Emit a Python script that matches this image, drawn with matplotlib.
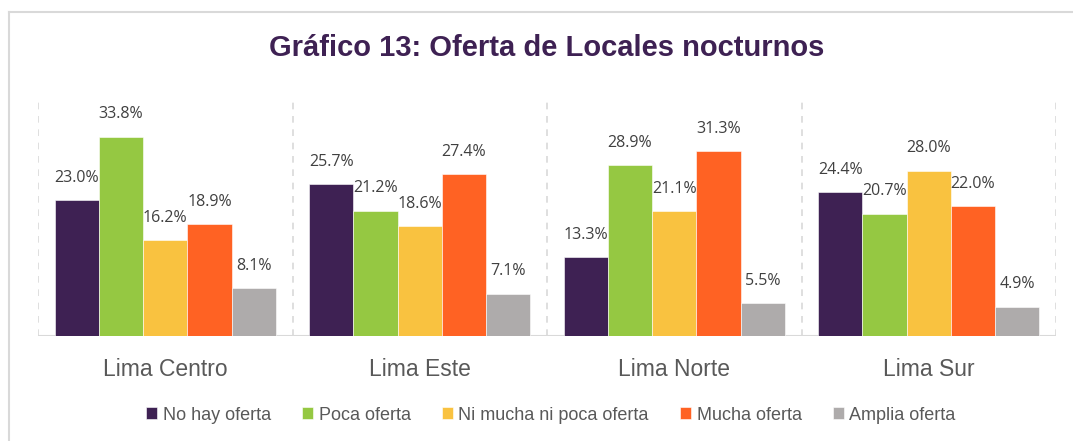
import numpy as np
import matplotlib.pyplot as plt
from matplotlib.lines import Line2D

# Data
regions = ["Lima Centro", "Lima Este", "Lima Norte", "Lima Sur"]
series_names = ["No hay oferta", "Poca oferta", "Ni mucha ni poca oferta",
                "Mucha oferta", "Amplia oferta"]
no_hay = [23.0, 25.7, 13.3, 24.4]
poca = [33.8, 21.2, 28.9, 20.7]
ni_mucha = [16.2, 18.6, 21.1, 28.0]
mucha = [18.9, 27.4, 31.3, 22.0]
amplia = [8.1, 7.1, 5.5, 4.9]

colors = ["#3E2153", "#95C842", "#F9C240", "#FF6223", "#AEABAB"]
series = [no_hay, poca, ni_mucha, mucha, amplia]

W, H = 1073, 441
fig = plt.figure(figsize=(W / 100, H / 100), dpi=100)
ax = fig.add_axes([38 / W, (H - 335.5) / H, (1056 - 38) / W, 235.5 / H])

x = np.arange(len(regions))
bw = 0.174
for i, (vals, c) in enumerate(zip(series, colors)):
    pos = x + (i - 2) * bw
    ax.bar(pos, vals, width=bw, color=c, edgecolor="white", linewidth=0.4,
           label=series_names[i], zorder=3)
    for px, v in zip(pos, vals):
        ax.annotate(f"{v:.1f}%", (px, v), xytext=(0, 16), textcoords="offset points",
                    ha="center", va="center", fontsize=11.5, color="#404040",
                    family="Open Sans", zorder=4)

ax.set_xlim(-0.5, len(regions) - 0.5)
ax.set_ylim(0, 40)
ax.set_yticks([])
ax.set_xticks(x)
ax.set_xticklabels(regions, fontsize=16.5, color="#595959", family="Liberation Sans")
ax.tick_params(axis="x", length=0, pad=16)
for s in ax.spines.values():
    s.set_visible(False)

# baseline and dashed separators
ax.axhline(0, color="#D9D9D9", lw=1.5, zorder=2)
for b in np.arange(-0.5, len(regions), 1.0):
    ax.axvline(b, color="#D9D9D9", lw=1.2, ls=(0, (4, 4)), zorder=1)

fig.text(546.5 / W, 1 - 48 / H, "Gráfico 13: Oferta de Locales nocturnos",
         ha="center", va="center", fontsize=21, fontweight="bold",
         color="#3E2153", family="Liberation Sans")

leg = fig.legend(loc="center", bbox_to_anchor=(551 / W, 1 - 415 / H), ncol=5,
                 frameon=False, handlelength=0.6, handleheight=0.6,
                 handletextpad=0.3, columnspacing=1.75,
                 prop={"family": "Liberation Sans", "size": 13})
for t in leg.get_texts():
    t.set_color("#595959")

# outer frame lines (left and top)
fig.add_artist(Line2D([9 / W, 9 / W], [0, 1 - 12 / H], color="#D9D9D9", lw=1.5))
fig.add_artist(Line2D([9 / W, 1], [1 - 12 / H, 1 - 12 / H], color="#D9D9D9", lw=1.5))

fig.savefig("out.png", dpi=100)
